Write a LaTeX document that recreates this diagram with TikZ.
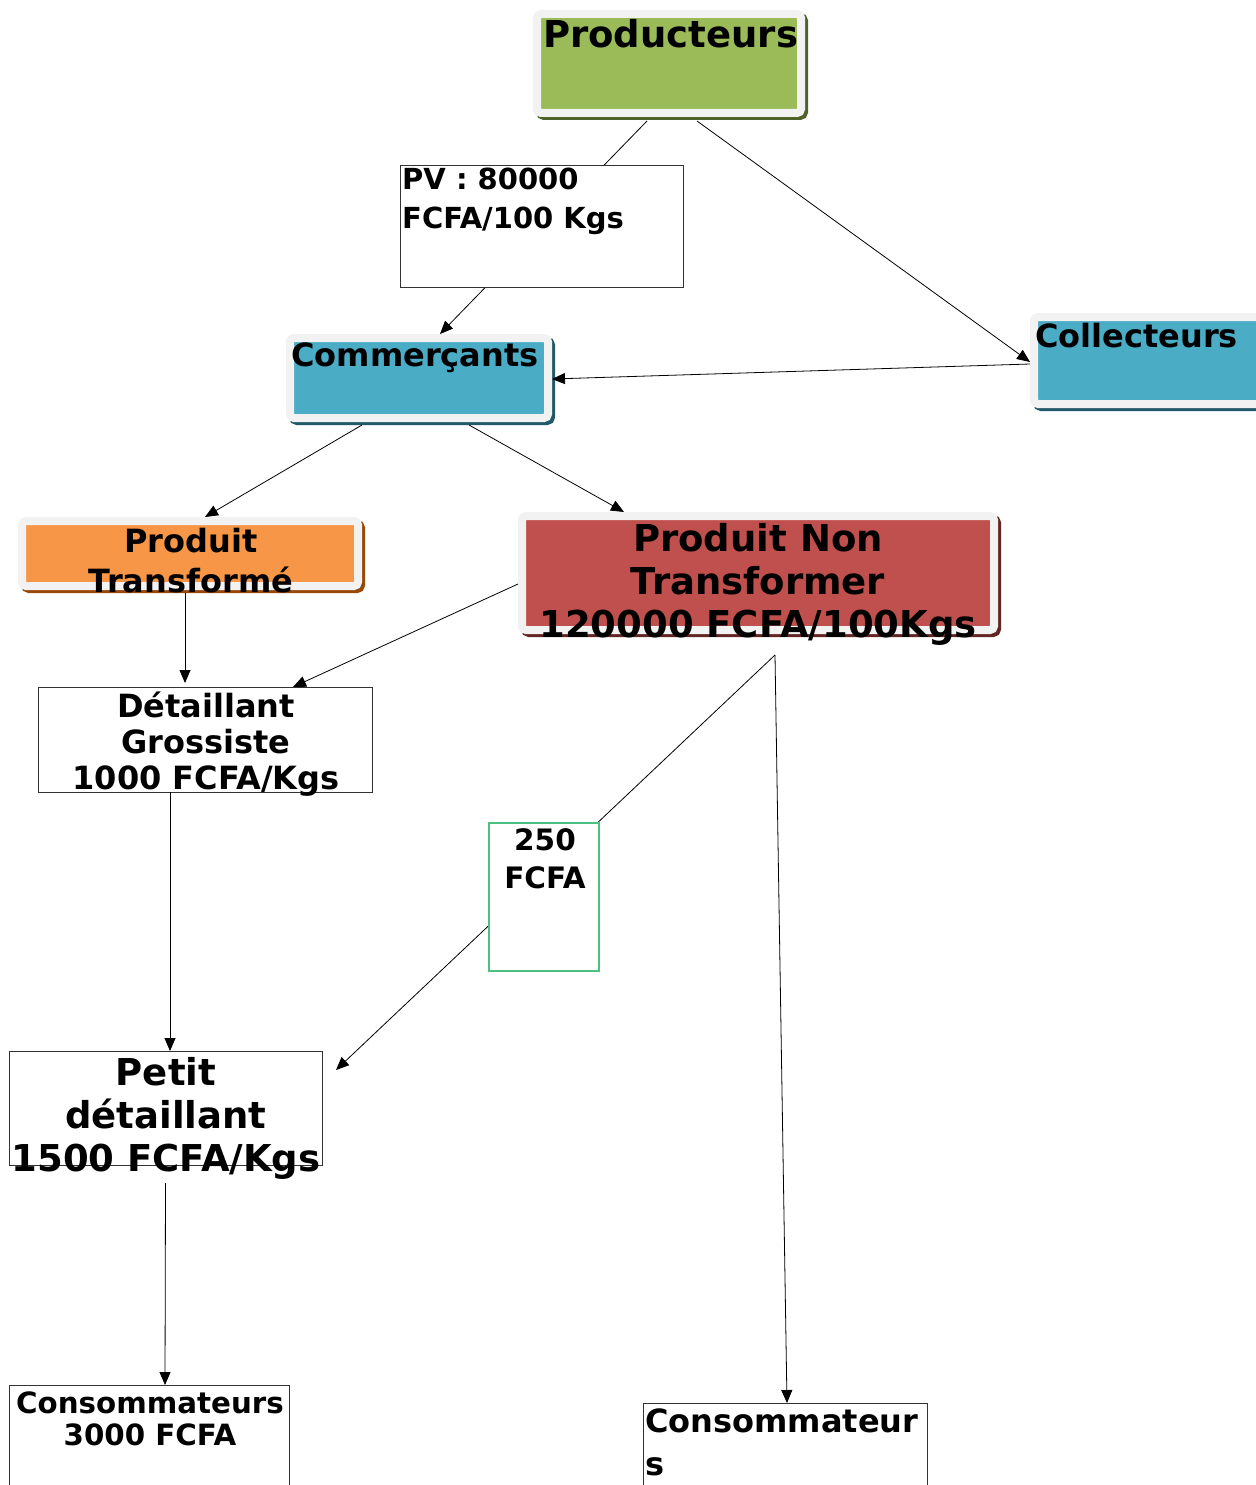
\documentclass[tikz,border=0pt]{standalone}
\usepackage{fontspec}
\setmainfont{DejaVu Sans}
\usetikzlibrary{arrows.meta,shadows}
\definecolor{framegray}{HTML}{F2F2F2}
\definecolor{prodgreen}{HTML}{9BBB59}
\definecolor{prodshadow}{HTML}{4F6228}
\definecolor{commblue}{HTML}{4BACC6}
\definecolor{commshadow}{HTML}{215968}
\definecolor{transorange}{HTML}{F79646}
\definecolor{transshadow}{HTML}{984807}
\definecolor{nontransred}{HTML}{C0504D}
\definecolor{nontransshadow}{HTML}{632523}
\definecolor{boxgray}{HTML}{333333}
\definecolor{boxgreen}{HTML}{4CC080}
\newcommand\setfs[2]{\fontsize{#1}{#2}\selectfont}

\begin{document}
\begin{tikzpicture}[x=1pt,y=-1pt,
  colbox/.style={draw=framegray, fill=#1, line width=8pt, rounded corners=4pt,
    anchor=north west, inner sep=0pt, outer sep=0pt},
  boxshadow/.style={drop shadow={shadow xshift=3pt, shadow yshift=-3pt,
    opacity=1, fill=#1, draw=#1, line width=8pt}},
  plainbox/.style={draw=boxgray, line width=0.9pt, fill=white,
    anchor=north west, inner sep=0pt, outer sep=0pt},
  lbl/.style={font=\bfseries, inner sep=0pt, align=center},
  conn/.style={-{Triangle[length=13pt,width=11pt]}, line width=0.8pt},
  link/.style={line width=0.8pt}]
  \useasboundingbox (0,0) rectangle (1255,1485);

  % coloured boxes
  \node[colbox=prodgreen, boxshadow=prodshadow, minimum width=264, minimum height=99] (prod) at (537,14) {};
  \node[colbox=commblue, boxshadow=commshadow, minimum width=258, minimum height=80] (comm) at (290,338) {};
  \node[colbox=commblue, boxshadow=commshadow, minimum width=260, minimum height=87] (coll) at (1034,317) {};
  \node[colbox=transorange, boxshadow=transshadow, minimum width=336, minimum height=65] (trans) at (22,521) {};
  \node[colbox=nontransred, boxshadow=nontransshadow, minimum width=472, minimum height=114] (nontrans) at (522,516) {};

  % plain boxes
  \node[plainbox, minimum width=334, minimum height=105] (det) at (38,687) {};
  \node[plainbox, minimum width=313, minimum height=114] (petit) at (9,1051) {};
  \node[plainbox, minimum width=280, minimum height=120] (cons) at (9,1385) {};
  \node[plainbox, minimum width=284, minimum height=110] (consb) at (643,1403) {};
  \coordinate (split) at ([xshift=17pt,yshift=-25pt]nontrans.south);

  % connectors
  \draw[conn] ([xshift=-22pt,yshift=-8pt]prod.south) -- ([xshift=21pt,yshift=4pt]comm.north);
  \draw[conn] ([xshift=28pt,yshift=-8pt]prod.south) -- ([xshift=-4pt,yshift=-1.5pt]coll.west);
  \draw[conn] ([xshift=-4pt,yshift=-3.5pt]coll.west) -- ([xshift=4pt,yshift=-1pt]comm.east);
  \draw[conn] ([xshift=-57pt,yshift=-7pt]comm.south) -- ([xshift=15pt,yshift=4pt]trans.north);
  \draw[conn] ([xshift=50pt,yshift=-7pt]comm.south) -- ([xshift=-134pt,yshift=4pt]nontrans.north);
  \draw[conn] ([xshift=-5pt,yshift=-7pt]trans.south) -- ([xshift=-20pt,yshift=4pt]det.north);
  \draw[conn] ([xshift=-4pt,yshift=-11pt]nontrans.west) -- ([xshift=88pt]det.north);
  \draw[conn] ([xshift=-35pt]det.south) -- ([xshift=4.5pt]petit.north);
  \draw[conn] (split) -- ([xshift=14pt,yshift=38pt]petit.east);
  \draw[conn] (split) -- ([xshift=2pt]consb.north);
  \draw[conn] ([yshift=-18pt]petit.south) -- ([xshift=16pt]cons.north);

  % price boxes over the lines
  \node[plainbox, minimum width=283, minimum height=122] (pv) at (400,165) {};
  \node[plainbox, draw=boxgreen, line width=1.2pt, minimum width=110, minimum height=148] (prix) at (489,823) {};

  % texts (base = baseline of the last line)
  \node[lbl, anchor=base west, font=\bfseries\setfs{37}{43}] (prodlbl) at (543,48) {Producteurs};
  \node[lbl, anchor=base west, font=\bfseries\setfs{32}{38}] (commlbl) at (291,366) {Commerçants};
  \node[lbl, anchor=base west, font=\bfseries\setfs{32}{38}] (colllbl) at (1035,347) {Collecteurs};
  \node[lbl, anchor=base west, align=left, font=\bfseries\setfs{29}{39}] (pvlbl) at (402,228) {PV : 80000\\FCFA/100 Kgs};
  \node[lbl, anchor=base, font=\bfseries\setfs{32}{40}] (translbl) at (191,592) {Produit\\Transformé};
  \node[lbl, anchor=base, font=\bfseries\setfs{37}{43}] (nontranslbl) at (758,637) {Produit Non\\Transformer\\120000 FCFA/100Kgs};
  \node[lbl, anchor=base, font=\bfseries\setfs{32}{36}] (detlbl) at (206,789) {Détaillant\\Grossiste\\1000 FCFA/Kgs};
  \node[lbl, anchor=base, font=\bfseries\setfs{29.5}{38}] (prixlbl) at (545,888) {250\\FCFA};
  \node[lbl, anchor=base, font=\bfseries\setfs{37}{43}] (petitlbl) at (166,1171) {Petit\\détaillant\\1500 FCFA/Kgs};
  \node[lbl, anchor=base, font=\bfseries\setfs{29.3}{32}] (conslbl) at (150,1445) {Consommateurs\\3000 FCFA};
  \node[lbl, anchor=base west, align=left, font=\bfseries\setfs{32}{43}] (consblbl) at (645,1475) {Consommateur\\s};
\end{tikzpicture}
\end{document}
